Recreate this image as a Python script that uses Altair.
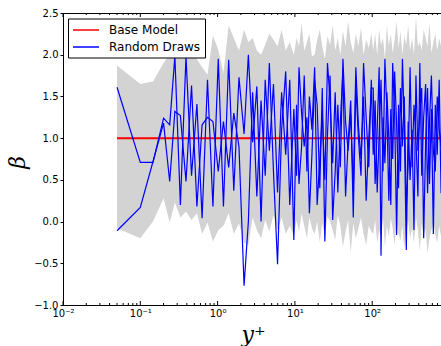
import altair as alt
import pandas as pd

# wall-normal coordinate y+ (shared by both random draws and the band)
X_PLUS = [0.05, 0.10, 0.146, 0.20,
          0.24, 0.28, 0.33, 0.39, 0.46, 0.54, 0.63, 0.74, 0.87, 1.02,
          1.19, 1.39, 1.62, 1.89,
          2.20, 2.50, 2.84, 3.22, 3.65, 4.13, 4.67, 5.28, 5.96, 6.73, 7.60, 8.58, 9.69,
          10.5, 11.3, 12.2, 13.2, 14.3, 15.4, 16.6, 18.0, 19.4, 21.0,
          22.6, 24.4, 26.4, 28.5, 30.8, 33.2, 35.9, 38.7, 41.8, 45.2,
          48.8, 52.7, 56.9, 61.4, 66.3, 71.6, 77.3, 83.5, 90.2, 97.4,
          103, 109, 116, 123, 130, 138, 146, 155, 164, 174,
          184, 195, 207, 219, 232, 246, 260, 276, 292, 309,
          328, 347, 368, 390, 413, 437, 463, 491, 520, 551,
          583, 618, 655, 694, 735, 778, 825]

DRAW_A = [1.61, 0.71, 0.71, 1.24,
          1.16, 1.98, 0.20, 1.98, 0.55, 1.41, 0.04, 1.70, 0.18, 1.95,
          0.18, 1.94, 0.37, 1.73,
          1.05, 2.00, 0.95, 1.62, 0.00, 1.70, 0.85, 1.65, 0.35, 1.55, 0.80, 1.70, -0.22,
          1.40, 0.45, 0.90, 1.75, 0.60, 1.50, 1.10, 1.85, 0.20, 0.75,
          1.30, 0.50, 1.90, 1.45, 0.70, 1.55, 0.35, 1.20, 1.80, 0.30,
          0.95, 1.45, 0.05, 1.65, 1.00, 0.55, 1.90, 1.25, 0.65, 1.70,
          0.80, 1.45, 0.35, 1.05, 1.70, 0.60, 1.95, 1.30, 0.25, 1.35,
          0.75, 1.80, 1.15, 0.40, 1.60, 0.90, 1.50, 0.15, 0.70, 1.85,
          0.65, 1.40, 1.00, 0.30, 1.90, 0.55, 1.25, 1.65, 0.34, 1.20,
          1.75, 0.85, 0.60, 1.50, 1.10, 0.90, 1.90]

DRAW_B = [-0.11, 0.17, 0.72, 1.18,
          0.48, 1.32, 1.27, 0.48, 1.63, 0.18, 1.16, 1.25, 1.20, 0.60,
          1.20, 0.65, 1.30, 0.90,
          -0.77, 0.00, 1.55, 0.30, 1.45, 0.55, 1.90, 0.60, -0.51, 1.10, 1.80, 0.20, 1.35,
          0.55, 1.85, 1.30, 0.90, 1.25, 0.10, 0.80, 1.70, 1.40, 0.40,
          1.60, -0.24, 1.05, 1.75, 0.02, 0.60, 1.40, 0.65, 1.95, 1.20,
          0.85, 1.30, 0.40, 1.85, 1.15, 0.75, 1.50, 0.25, 1.00, 1.60,
          1.60, 0.45, 1.10, 1.85, -0.41, 1.25, 0.70, 1.55, 1.00, 0.20,
          1.90, 1.30, -0.16, 1.40, 0.60, 1.95, 1.15, -0.34, 1.20, 0.50,
          1.10, -0.10, 1.75, 0.85, 1.30, 1.60, -0.20, 0.95, 1.60, 0.45,
          1.35, -0.15, 1.40, 0.80, 1.70, 0.34, 1.20]

BAND_LO = [-0.08, -0.20, 0.00, 0.28,
           -0.01, 0.23, 0.05, 0.12, 0.02, 0.10, -0.15, -0.01, -0.24, -0.10,
           -0.05, 0.10, -0.15, -0.02,
           -0.25, -0.28, 0.05, -0.10, -0.20, 0.02, -0.12, 0.08, -0.10, 0.05, -0.15, -0.05, -0.18,
           0.02, -0.12, 0.10, -0.05, -0.20, 0.05, -0.08, -0.15, 0.00, -0.25,
           -0.02, -0.18, 0.06, 0.00, -0.10, -0.22, 0.08, -0.05, -0.30, -0.12,
           0.02, -0.37, -0.02, -0.20, -0.08, 0.05, -0.15, -0.28, -0.05, -0.12,
           -0.15, 0.02, -0.25, -0.10, -0.20, 0.05, -0.30, -0.05, -0.18, 0.04,
           -0.08, -0.28, 0.00, -0.15, -0.22, -0.05, -0.32, -0.12, 0.02, -0.20,
           -0.08, -0.25, 0.05, -0.10, -0.35, -0.02, -0.18, -0.08, -0.38, -0.20,
           -0.10, 0.00, -0.15, -0.25, -0.05, -0.18, -0.10]

BAND_HI = [1.87, 1.65, 1.68, 1.90,
           2.00, 2.06, 2.05, 2.06, 1.98, 1.95, 1.85, 1.76, 2.23, 2.06,
           1.78, 2.35, 2.20, 2.05,
           2.30, 2.15, 2.20, 2.05, 2.00, 2.12, 2.25, 2.18, 2.10, 2.30, 2.05, 2.15, 2.00,
           2.20, 2.10, 2.38, 2.05, 2.15, 2.25, 1.98, 2.00, 2.18, 2.30,
           2.10, 1.95, 2.22, 2.12, 2.35, 2.05, 2.20, 2.00, 2.28, 2.10,
           2.40, 2.15, 2.02, 2.25, 2.10, 2.32, 2.00, 2.18, 2.08, 2.26,
           2.05, 2.25, 2.00, 2.30, 2.12, 2.20, 1.95, 2.35, 2.10, 2.25,
           2.02, 2.18, 2.40, 2.08, 2.28, 2.00, 2.22, 2.12, 2.35, 2.05,
           2.20, 2.00, 2.45, 2.10, 2.15, 2.05, 2.30, 2.20, 2.10, 2.38,
           2.02, 2.15, 2.25, 2.05, 2.20, 2.10, 2.00]

BASE_X = [0.05, 825]
BASE_Y = [1.0, 1.0]

SERIES = ["Base Model", "Random Draws"]
SERIES_COLORS = ["#ff0000", "#0000ff"]

X_MAJOR = [0.01, 0.1, 1, 10, 100]
X_MAJOR_TEXT = ["10\u207b\u00b2", "10\u207b\u00b9", "10\u2070", "10\u00b9", "10\u00b2"]
X_MINOR = [0.02, 0.03, 0.04, 0.05, 0.06, 0.07, 0.08, 0.09,
           0.2, 0.3, 0.4, 0.5, 0.6, 0.7, 0.8, 0.9,
           2, 3, 4, 5, 6, 7, 8, 9,
           20, 30, 40, 50, 60, 70, 80, 90,
           200, 300, 400, 500, 600, 700]
Y_TICKS = [-1.0, -0.5, 0.0, 0.5, 1.0, 1.5, 2.0, 2.5]

W, H = 378, 292

band_df = pd.DataFrame({"x": X_PLUS, "lo": BAND_LO, "hi": BAND_HI})
base_df = pd.DataFrame({"x": BASE_X, "beta": BASE_Y, "series": SERIES[0]})
draw_df = pd.concat([
    pd.DataFrame({"x": X_PLUS, "beta": DRAW_A, "draw": "a", "series": SERIES[1]}),
    pd.DataFrame({"x": X_PLUS, "beta": DRAW_B, "draw": "b", "series": SERIES[1]}),
], ignore_index=True)
major_df = pd.DataFrame({"x": X_MAJOR})
minor_df = pd.DataFrame({"x": X_MINOR})

x_scale = alt.Scale(type="log", domain=[0.01, 776], nice=False)
y_scale = alt.Scale(domain=[-1.0, 2.5], nice=False, zero=False)

label_expr = " : ".join(
    f"datum.value == {v} ? '{t}'" for v, t in zip(X_MAJOR, X_MAJOR_TEXT)
) + " : ''"

x_axis = alt.Axis(values=X_MAJOR, labelExpr=label_expr, ticks=False, grid=False,
                  labelFont="DejaVu Sans", labelFontSize=10, labelColor="black",
                  labelPadding=3, labelFlush=False, domainColor="black",
                  title="y\u207a", titleFont="DejaVu Serif", titleFontStyle="italic",
                  titleFontWeight="normal", titleFontSize=22, titleColor="black",
                  titleX=190, titleY=36, titleAlign="center", titleBaseline="alphabetic")
y_axis = alt.Axis(values=Y_TICKS, format=".1f", grid=False, tickSize=3, tickColor="black",
                  labelFont="DejaVu Sans", labelFontSize=10, labelColor="black",
                  labelPadding=2, labelFlush=False, domainColor="black",
                  title="\u03b2", titleFont="DejaVu Serif", titleFontStyle="italic",
                  titleFontWeight="normal", titleFontSize=22, titleColor="black",
                  titleAngle=270, titleX=-46, titleY=149, titleAlign="center",
                  titleBaseline="middle")

legend = alt.Legend(orient="none", legendX=5, legendY=5.5, title=None,
                    symbolType="M-1,0H3", symbolSize=169, symbolStrokeWidth=1.5,
                    labelFont="DejaVu Sans", labelFontSize=12, labelColor="black",
                    strokeColor="black", fillColor="white", padding=4,
                    rowPadding=3, labelOffset=22, cornerRadius=0)
color = alt.Color("series:N", scale=alt.Scale(domain=SERIES, range=SERIES_COLORS), legend=legend)

X_ENC = alt.X("x:Q", scale=x_scale, axis=x_axis)

band = alt.Chart(band_df).mark_area(color="#d3d3d3", opacity=1, clip=True).encode(
    x=X_ENC,
    y=alt.Y("lo:Q", scale=y_scale, axis=y_axis),
    y2="hi:Q",
)
base = alt.Chart(base_df).mark_line(strokeWidth=2, clip=True).encode(
    x=X_ENC,
    y=alt.Y("beta:Q", scale=y_scale, axis=y_axis),
    color=color,
)
draws = alt.Chart(draw_df).mark_line(strokeWidth=1.2, clip=True).encode(
    x=X_ENC,
    y=alt.Y("beta:Q", scale=y_scale, axis=y_axis),
    color=color,
    detail="draw:N",
)

def tick_layer(df, y0, y1):
    return alt.Chart(df).mark_rule(color="black", strokeWidth=1).encode(
        x=X_ENC,
        y=alt.value(y0), y2=alt.value(y1),
    )

ticks = [
    tick_layer(major_df, H, H - 4), tick_layer(major_df, 0, 4),
    tick_layer(minor_df, H, H - 2), tick_layer(minor_df, 0, 2),
]

chart = alt.layer(band, base, draws, *ticks).properties(
    width=W, height=H,
    autosize=alt.AutoSizeParams(type="none"),
    padding={"left": 63, "top": 13, "right": 0, "bottom": 41},
    background="white",
).configure_view(stroke="black", strokeWidth=1)

chart.save("out.html", embed_options={"renderer": "svg", "actions": False})
